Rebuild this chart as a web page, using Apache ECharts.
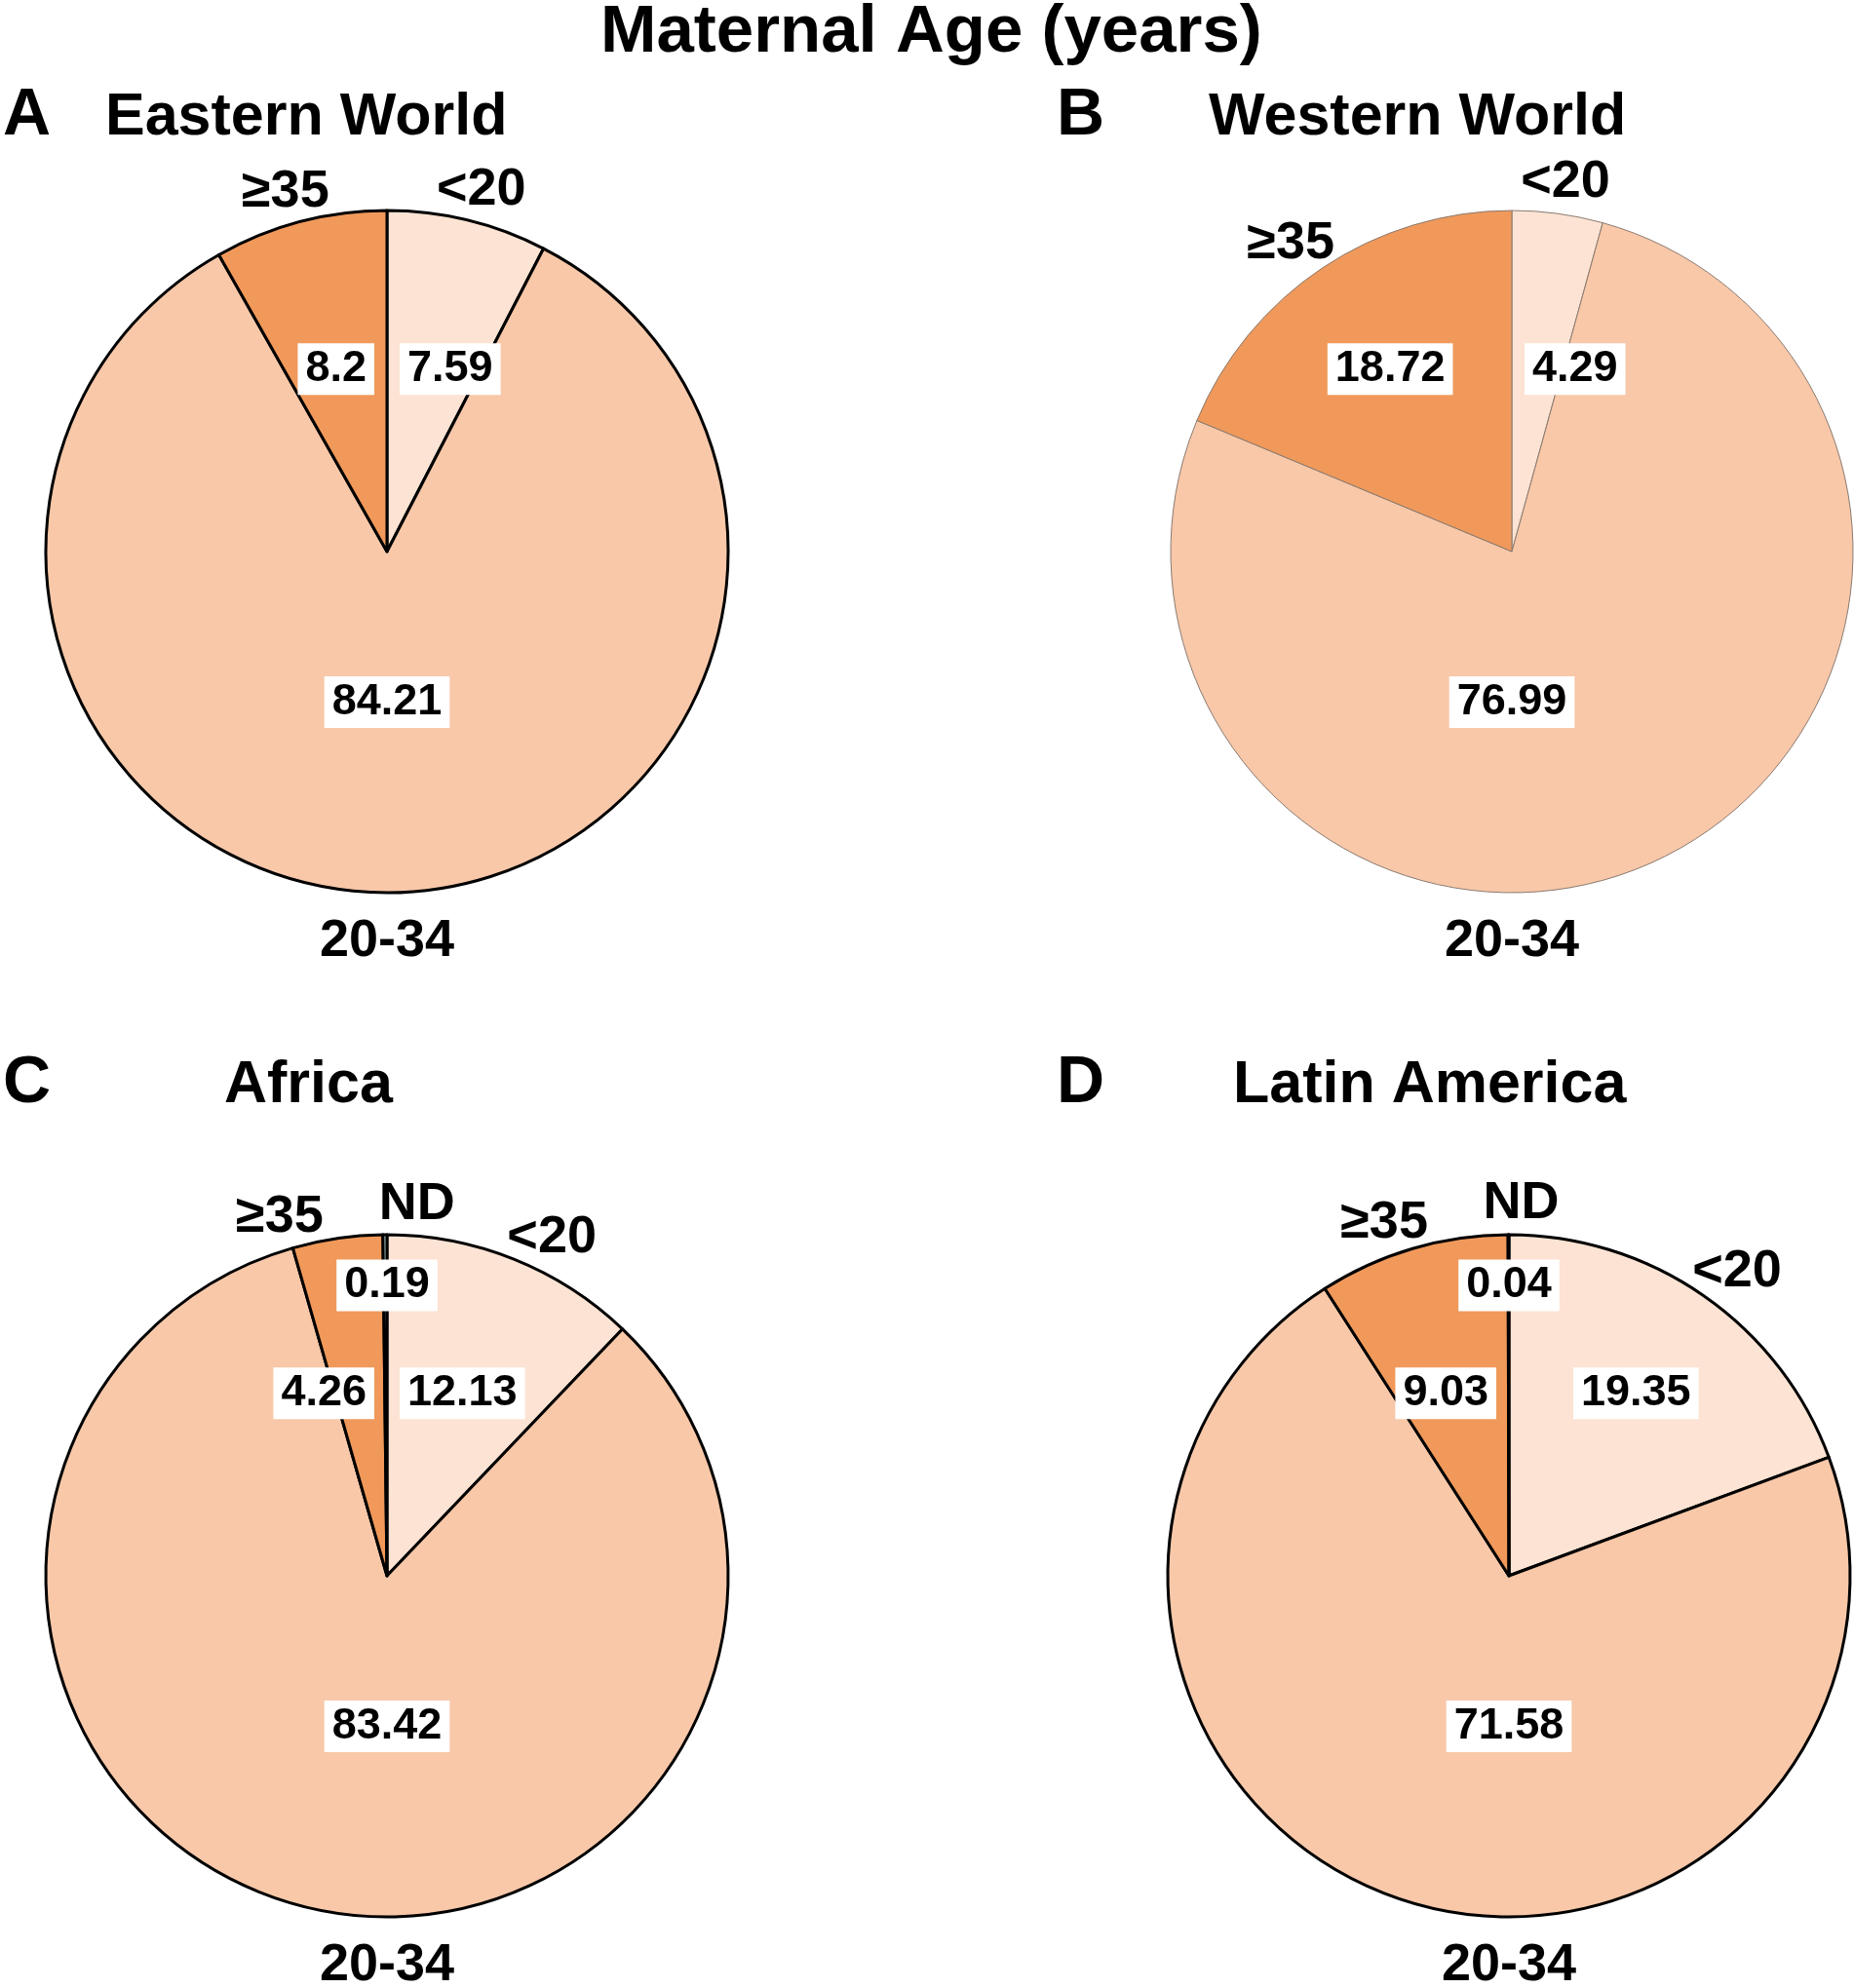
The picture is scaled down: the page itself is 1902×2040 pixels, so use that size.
<!DOCTYPE html>
<html>
<head>
<meta charset="utf-8">
<title>Maternal Age (years)</title>
<script src="https://cdn.jsdelivr.net/npm/echarts@6/dist/echarts.min.js"></script>
<style>
    html, body { margin: 0; padding: 0; background: #fff; }
    .echarts { width: 1902px; height: 2040px; }
</style>
</head>
<body>
<div class="echarts"></div>
<script>
// 年龄分组 (顺时针, 从12点开始)
var ageGroups = ['<20', '20-34', '≥35', 'ND'];
// 各地区百分比
var easternWorld = [7.59, 84.21, 8.2];
var westernWorld = [4.29, 76.99, 18.72];
var africa = [12.13, 83.42, 4.26, 0.19];
var latinAmerica = [19.35, 71.58, 9.03, 0.04];

var sliceColors = ['#FCE3D3', '#F8C8A9', '#F0995A', '#9FBFBF'];
var fontFamily = '"Liberation Sans", Arial, sans-serif';

// 面板布局
var panels = [
    { letter: 'A', name: 'Eastern World', values: easternWorld, cx: 397, cy: 566, letterX: 3, nameX: 108, top: 85, border: '#000', bw: 3 },
    { letter: 'B', name: 'Western World', values: westernWorld, cx: 1551, cy: 566, letterX: 1084, nameX: 1240, top: 85, border: '#8a7a70', bw: 1 },
    { letter: 'C', name: 'Africa', values: africa, cx: 397, cy: 1617, letterX: 3, nameX: 230, top: 1078, border: '#000', bw: 3 },
    { letter: 'D', name: 'Latin America', values: latinAmerica, cx: 1548, cy: 1617, letterX: 1084, nameX: 1265, top: 1078, border: '#000', bw: 3 }
];
var radius = 350;

function sum(arr) {
    return arr.reduce(function(a, b) { return a + b; }, 0);
}

// 扇区起止角 (度, 从12点顺时针)
function sliceRange(values, i) {
    var total = sum(values);
    var cum = 0;
    for (var k = 0; k < i; k++) cum += values[k];
    return [cum / total * 360, (cum + values[i]) / total * 360];
}

function midAngle(values, i) {
    var s = sliceRange(values, i);
    var a = (s[0] + s[1]) / 2;
    if (a > 180) a -= 360;
    return a * Math.PI / 180;
}

function coversBottom(values, i) {
    var s = sliceRange(values, i);
    return s[0] <= 180 && s[1] >= 180;
}

// 外侧标签角度, 互相推开避免重叠
function outerAngles(values) {
    var ang = [];
    var top = [];
    for (var i = 0; i < values.length; i++) {
        if (coversBottom(values, i)) {
            ang[i] = Math.PI;
        } else {
            ang[i] = midAngle(values, i);
            top.push(i);
        }
    }
    top.sort(function(a, b) { return ang[a] - ang[b]; });
    var minSep = 20 * Math.PI / 180;
    for (var it = 0; it < 60; it++) {
        for (var j = 0; j < top.length - 1; j++) {
            var a = top[j], b = top[j + 1];
            var d = ang[b] - ang[a];
            if (d < minSep) {
                var push = (minSep - d) / 2;
                ang[a] -= push;
                ang[b] += push;
            }
        }
    }
    return ang;
}

function makeData(values) {
    return values.map(function(v, i) {
        return { name: ageGroups[i], value: v, itemStyle: { color: sliceColors[i] } };
    });
}

var series = [];
var titles = [{
    text: 'Maternal Age (years)',
    left: 616,
    top: -1,
    padding: 0,
    textStyle: { fontSize: 69, fontWeight: 'bold', color: '#000', fontFamily: fontFamily }
}];

panels.forEach(function(p) {
    var values = p.values;
    var total = sum(values);
    var ang = outerAngles(values);

    titles.push({
        text: p.letter, left: p.letterX, top: p.top, padding: 0,
        textStyle: { fontSize: 68, fontWeight: 'bold', color: '#000', fontFamily: fontFamily }
    });
    titles.push({
        text: p.name, left: p.nameX, top: p.top + 6, padding: 0,
        textStyle: { fontSize: 61, fontWeight: 'bold', color: '#000', fontFamily: fontFamily }
    });

    // 扇区 + 数值标签
    series.push({
        type: 'pie',
        center: [p.cx, p.cy],
        radius: radius,
        startAngle: 90,
        clockwise: true,
        avoidLabelOverlap: false,
        emphasis: { disabled: true },
        silent: true,
        animation: false,
        itemStyle: { borderColor: p.border, borderWidth: p.bw },
        label: {
            show: true,
            position: 'inside',
            formatter: '{c}',
            color: '#000',
            fontSize: 45,
            fontWeight: 'bold',
            fontFamily: fontFamily,
            backgroundColor: '#fff',
            padding: [5, 8, 3, 8]
        },
        labelLine: { show: false },
        labelLayout: function(params) {
            var i = params.dataIndex;
            var a = midAngle(values, i);
            var x, y;
            if (coversBottom(values, i)) {
                x = p.cx;
                y = p.cy + 0.43 * radius + 4;
            } else if (values[i] / total < 0.01) {
                x = p.cx;
                y = p.cy - 0.857 * radius + 2;
            } else {
                var h = 0.535 * radius;
                var dx = Math.max(Math.abs(Math.tan(a)) * h, params.labelRect.width / 2 + 13);
                x = p.cx + (Math.sin(a) < 0 ? -dx : dx);
                y = p.cy - h;
            }
            return { x: x, y: y, align: 'center', verticalAlign: 'middle' };
        },
        data: makeData(values)
    });

    // 外侧年龄分组标签
    series.push({
        type: 'pie',
        center: [p.cx, p.cy],
        radius: radius,
        startAngle: 90,
        clockwise: true,
        avoidLabelOverlap: false,
        emphasis: { disabled: true },
        silent: true,
        animation: false,
        itemStyle: { color: 'rgba(0,0,0,0)', borderWidth: 0 },
        label: {
            show: true,
            position: 'inside',
            formatter: '{b}',
            color: '#000',
            fontSize: 54,
            fontWeight: 'bold',
            fontFamily: fontFamily
        },
        labelLine: { show: false },
        labelLayout: function(params) {
            var a = ang[params.dataIndex];
            var hw = params.labelRect.width / 2;
            var hh = params.labelRect.height / 2;
            var d = radius + 14;
            return {
                x: p.cx + (d + hw) * Math.sin(a),
                y: p.cy - d * Math.cos(a) - hh * Math.cos(a) + 9,
                align: 'center',
                verticalAlign: 'middle'
            };
        },
        data: values.map(function(v, i) {
            return { name: ageGroups[i], value: v, itemStyle: { color: 'rgba(0,0,0,0)' } };
        })
    });
});

var myChart = echarts.init(document.querySelector('.echarts'));
var option = {
    backgroundColor: '#fff',
    animation: false,
    title: titles,
    series: series
};
myChart.setOption(option);
</script>
</body>
</html>
